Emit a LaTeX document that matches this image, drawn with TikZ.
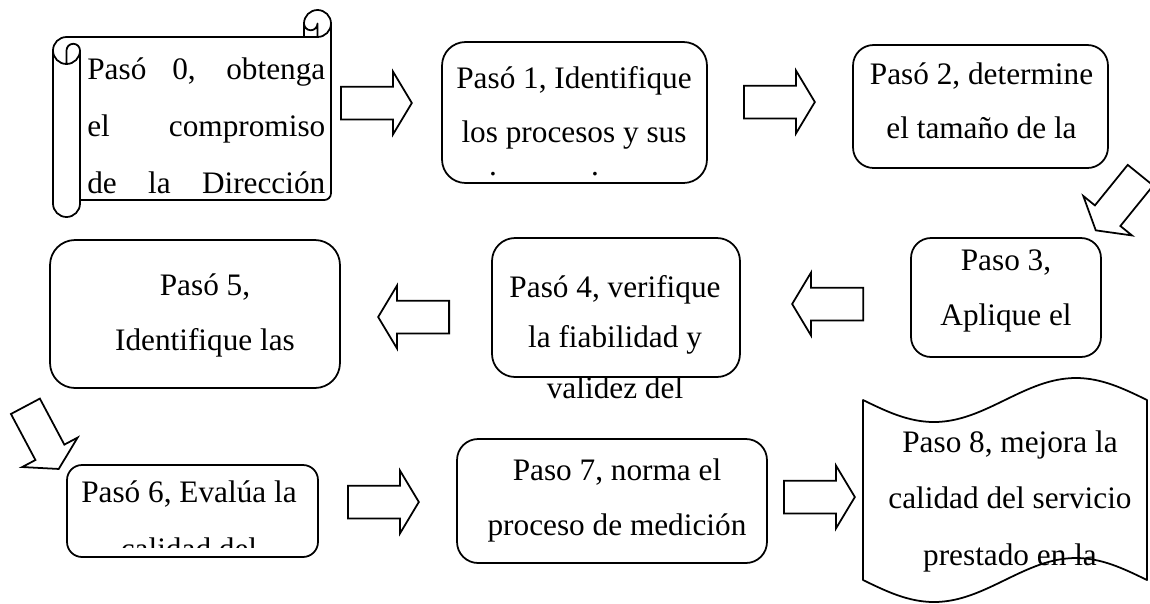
\documentclass[tikz,border=0pt]{standalone}
\usepackage{fontspec}
\setmainfont{Liberation Serif}
\usetikzlibrary{shapes.arrows}

\begin{document}
\begin{tikzpicture}[
    x=0.02cm,y=-0.02cm,
    stepbox/.style={draw,line width=1pt,inner sep=0pt},
    stepline/.style={line width=1pt,line join=round},
    steptext/.style={inner sep=0pt,anchor=base,align=center,
        font=\fontsize{17.8pt}{#1}\selectfont},
    steptext/.default=31.3pt,
    blockarrow/.style={single arrow,draw,fill=white,line width=1pt,inner sep=0pt,
        minimum height=1.42cm,single arrow head extend=0.3cm,
        single arrow tip angle=118,anchor=tail}]
\useasboundingbox (0,0) rectangle (1150,603);

% paso 0: pergamino
\draw[stepline] (53,50.5) arc[start angle=180,end angle=270,radius=13.5]
    -- (304,37) -- (304,23.5) arc[start angle=180,end angle=360,radius=13.5]
    -- (331,193.25) arc[start angle=0,end angle=90,radius=6.75]
    -- (80,200) -- (80,203.5) arc[start angle=0,end angle=180,radius=13.5] -- cycle;
\draw[stepline] (304,37) -- (317.5,37) arc[start angle=90,end angle=0,radius=13.5];
\draw[stepline] (317.5,37) -- (317.5,23.5) arc[start angle=0,end angle=180,radius=6.75];
\draw[stepline] (66.5,64) -- (66.5,50.5) arc[start angle=180,end angle=360,radius=6.75]
    arc[start angle=0,end angle=180,radius=13.5];
\draw[stepline] (80,50.5) -- (80,200);
\node[inner sep=0pt,anchor=base west,align=left,font=\fontsize{17.8pt}{32.4pt}\selectfont]
    (t0) at (87,193) {\makebox[4.76cm][s]{Pasó 0, obtenga}\\
    \makebox[4.76cm][s]{el compromiso}\\\makebox[4.76cm][s]{de la Dirección}};

% fila superior
\node[stepbox,rounded corners=0.47cm,minimum width=5.3cm,minimum height=2.82cm] (b1) at (574.5,112.5) {};
\node[steptext=30.7pt] (t1) at (574,142) {Pasó 1, Identifique\\los procesos y sus};
\node[steptext] (d1) at (493,175) {.};
\node[steptext] (d2) at (595,175) {.};
\node[stepbox,rounded corners=0.41cm,minimum width=5.1cm,minimum height=2.46cm] (b2) at (980.5,106.5) {};
\node[steptext=30.2pt] (t2) at (981.5,138) {Pasó 2, determine\\el tamaño de la};

% fila central
\node[stepbox,rounded corners=0.4cm,minimum width=3.8cm,minimum height=2.38cm] (b3) at (1006,297.5) {};
\node[steptext] (t3) at (1006,325) {Paso 3,\\Aplique el};
\node[stepbox,rounded corners=0.46cm,minimum width=4.96cm,minimum height=2.78cm] (b4) at (616,307.5) {};
\node[steptext=28.7pt] (t4) at (615,398) {Pasó 4, verifique\\la fiabilidad y\\validez del};
\node[stepbox,rounded corners=0.5cm,minimum width=5.8cm,minimum height=2.96cm] (b5) at (195,314) {};
\node[steptext] (t5) at (205,350) {Pasó 5,\\Identifique las};

% fila inferior
\node[stepbox,rounded corners=0.3cm,minimum width=5.02cm,minimum height=1.84cm] (b6) at (192.5,511) {};
\begin{scope}
\clip (67,465) rectangle (318,547);
\node[steptext=31.9pt] (t6) at (189,559) {Pasó 6, Evalúa la\\calidad del};
\end{scope}
\node[stepbox,rounded corners=0.42cm,minimum width=6.2cm,minimum height=2.48cm] (b7) at (612,501) {};
\node[steptext] (t7) at (617,535) {Paso 7, norma el\\proceso de medición};

% paso 8: cinta
\node[steptext=32.1pt] (t8) at (1010,565) {Paso 8, mejora la\\calidad del servicio\\prestado en la};
\draw[stepline] (863,400) sin (934,422) cos (1005,400) sin (1076,378) cos (1147,400)
    -- (1147,580) sin (1076,558) cos (1005,580) sin (934,602) cos (863,580) -- cycle;

% flechas
\node[blockarrow] (a01) at (340,103) {\rule{0pt}{0.62cm}};
\node[blockarrow] (a12) at (743,102) {\rule{0pt}{0.62cm}};
\node[blockarrow,rotate=231] (a23) at (1141,174.5) {\rule{0pt}{0.62cm}};
\node[blockarrow,rotate=180] (a34) at (864,304) {\rule{0pt}{0.62cm}};
\node[blockarrow,rotate=180] (a45) at (450,317) {\rule{0pt}{0.62cm}};
\node[blockarrow,rotate=-62] (a56) at (25,405.5) {\rule{0pt}{0.62cm}};
\node[blockarrow] (a67) at (347,502) {\rule{0pt}{0.62cm}};
\node[blockarrow] (a78) at (783,497) {\rule{0pt}{0.62cm}};
\end{tikzpicture}
\end{document}
